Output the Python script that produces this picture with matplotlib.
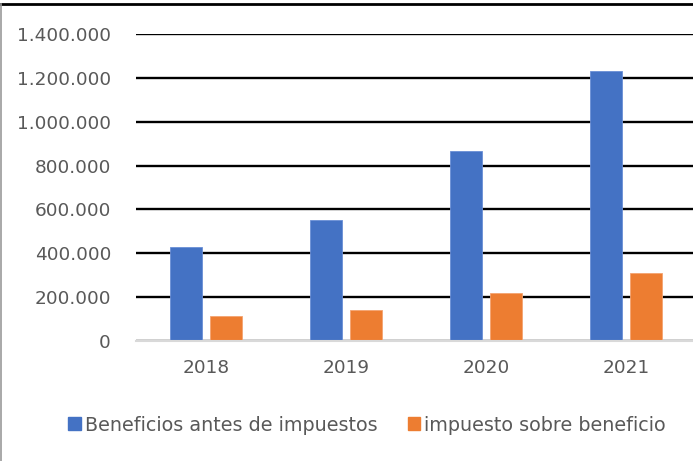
import matplotlib.pyplot as plt
import numpy as np
from matplotlib.patches import Rectangle
from matplotlib.lines import Line2D

years = ["2018", "2019", "2020", "2021"]
beneficios = [428000, 551000, 866000, 1231000]
impuesto = [114000, 141000, 220000, 311000]
yticks = [0, 200000, 400000, 600000, 800000, 1000000, 1200000, 1400000]
ytick_labels = ["0", "200.000", "400.000", "600.000", "800.000", "1.000.000", "1.200.000", "1.400.000"]
series_names = ["Beneficios antes de impuestos", "impuesto sobre beneficio"]

W, H = 693, 461
fig = plt.figure(figsize=(W/100, H/100), dpi=100)
plt.rcParams['font.family'] = ['DejaVu Sans']

left, right, top, bottom = 136, 696, 34, 341
ax = fig.add_axes([left/W, 1-bottom/H, (right-left)/W, (bottom-top)/H])
ax.set_xlim(-0.5, 3.5)
ax.set_ylim(0, 1400000)

x = np.arange(len(years))
bw = 0.229
off = 0.143
blue = '#4472C4'
orange = '#ED7D31'
ax.bar(x - off, beneficios, bw, color=blue, zorder=3, edgecolor='#6a8fd6', linewidth=0.6)
ax.bar(x + off, impuesto, bw, color=orange, zorder=3, edgecolor='#f4a370', linewidth=0.6)

ax.set_yticks(yticks)
ax.set_yticklabels(ytick_labels)
ax.set_xticks(x)
ax.set_xticklabels(years)
ax.yaxis.grid(True, color='black', linewidth=1.7, zorder=1)
ax.tick_params(axis='both', length=0, labelsize=13.3, labelcolor='#595959')
ax.tick_params(axis='y', pad=18)
ax.tick_params(axis='x', pad=13)
for s in ['top', 'right', 'left']:
    ax.spines[s].set_visible(False)
ax.spines['bottom'].set_color('#d9d9d9')
ax.spines['bottom'].set_linewidth(1.5)
ax.spines['bottom'].set_zorder(4)

# frame lines
fig.add_artist(Line2D([0, 1], [1-4.5/H, 1-4.5/H], transform=fig.transFigure, color='black', linewidth=2))
fig.add_artist(Line2D([0.6/W, 0.6/W], [0, 1-4.5/H], transform=fig.transFigure, color='#9a9a9a', linewidth=1.2))

# legend
handles = [Rectangle((0, 0), 1, 1, color=blue), Rectangle((0, 0), 1, 1, color=orange)]
fig.legend(handles, series_names, loc='center', bbox_to_anchor=(367/W, 1-425/H),
           ncol=2, frameon=False, fontsize=13.8, labelcolor='#595959',
           handlelength=0.65, handleheight=0.65, handletextpad=0.2, columnspacing=1.6)

fig.savefig('out.png', dpi=100)
